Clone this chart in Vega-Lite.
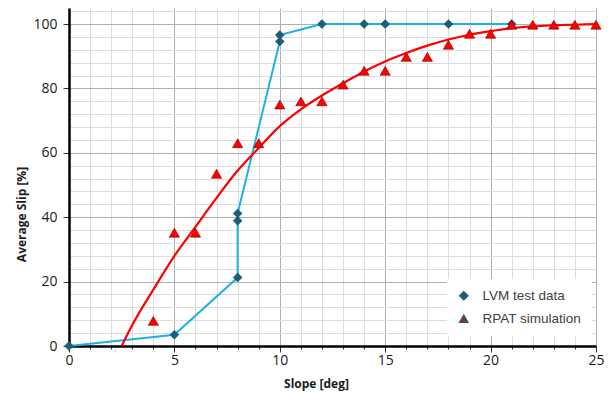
{
  "$schema": "https://vega.github.io/schema/vega-lite/v6.json",
  "width": 527,
  "height": 338,
  "autosize": {"type": "none"},
  "padding": {"left": 69, "top": 8, "right": 18, "bottom": 48},
  "background": "white",
  "config": {"view": {"stroke": null}},
  "encoding": {
    "x": {
      "field": "slope", "type": "quantitative",
      "scale": {"domain": [0, 25], "nice": false, "zero": false},
      "axis": {
        "values": [0,1,2,3,4,5,6,7,8,9,10,11,12,13,14,15,16,17,18,19,20,21,22,23,24,25],
        "labelExpr": "datum.value % 5 === 0 ? datum.label : ''",
        "labelOverlap": false,
        "labelFlush": false,
        "grid": true,
        "gridColor": {"condition": {"test": "datum.value % 5 === 0", "value": "#b0b0b0"}, "value": "#dcdcdc"},
        "gridWidth": 1,
        "domainColor": "#000000",
        "domainWidth": 2.5,
        "tickColor": "#333",
        "tickSize": {"condition": {"test": "datum.value % 5 === 0", "value": 6}, "value": 3},
        "labelFont": "Open Sans",
        "labelFontSize": 14,
        "labelColor": "#1a1a1a",
        "labelPadding": 1,
        "title": "Slope [deg]",
        "titleFont": "Open Sans",
        "titleFontSize": 12,
        "titleFontWeight": "bold",
        "titleColor": "#1a1a1a",
        "titleAnchor": null,
        "titleAlign": "center",
        "titleBaseline": "alphabetic",
        "titleX": 247,
        "titleY": 41
      }
    },
    "y": {
      "field": "slip", "type": "quantitative",
      "scale": {"domain": [0, 105], "nice": false},
      "axis": {
        "values": [0,4,8,12,16,20,24,28,32,36,40,44,48,52,56,60,64,68,72,76,80,84,88,92,96,100,104],
        "labelExpr": "datum.value % 20 === 0 ? datum.label : ''",
        "labelOverlap": false,
        "labelFlush": false,
        "grid": true,
        "gridColor": {"condition": {"test": "datum.value % 20 === 0", "value": "#b0b0b0"}, "value": "#dcdcdc"},
        "gridWidth": 1,
        "domainColor": "#000000",
        "domainWidth": 2.5,
        "tickColor": "#333",
        "tickSize": {"condition": {"test": "datum.value % 20 === 0", "value": 6}, "value": 0},
        "labelFont": "Open Sans",
        "labelFontSize": 14,
        "labelColor": "#1a1a1a",
        "labelPadding": 6,
        "title": "Average Slip [%]",
        "titleFont": "Open Sans",
        "titleFontSize": 12,
        "titleFontWeight": "bold",
        "titleColor": "#1a1a1a",
        "titleAlign": "center",
        "titleBaseline": "alphabetic",
        "titleAngle": -90,
        "titleX": -44,
        "titleY": 206
      }
    }
  },
  "layer": [
    {
      "data": {"values": [
        {"i": 0, "slope": 0, "slip": 0},
        {"i": 1, "slope": 5, "slip": 3.5},
        {"i": 2, "slope": 8, "slip": 21.3},
        {"i": 3, "slope": 8, "slip": 38.9},
        {"i": 4, "slope": 8, "slip": 41.2},
        {"i": 5, "slope": 10, "slip": 94.6},
        {"i": 6, "slope": 10, "slip": 96.6},
        {"i": 7, "slope": 12, "slip": 100},
        {"i": 8, "slope": 14, "slip": 100},
        {"i": 9, "slope": 15, "slip": 100},
        {"i": 10, "slope": 18, "slip": 100},
        {"i": 11, "slope": 21, "slip": 100}
      ]},
      "mark": {"type": "line", "color": "#1cb0e6", "strokeWidth": 2},
      "encoding": {
        "order": {"field": "i", "type": "quantitative"}
      }
    },
    {
      "data": {"values": [
        {"slope": 2.5, "slip": 0},
        {"slope": 3, "slip": 6.5},
        {"slope": 4, "slip": 17.5},
        {"slope": 5, "slip": 28},
        {"slope": 6, "slip": 37},
        {"slope": 7, "slip": 46},
        {"slope": 8, "slip": 54.5},
        {"slope": 9, "slip": 61.5},
        {"slope": 10, "slip": 68.3},
        {"slope": 11, "slip": 73.5},
        {"slope": 12, "slip": 77.8},
        {"slope": 13, "slip": 81.6},
        {"slope": 14, "slip": 85.3},
        {"slope": 15, "slip": 88.4},
        {"slope": 16, "slip": 91},
        {"slope": 17, "slip": 93.3},
        {"slope": 18, "slip": 95.2},
        {"slope": 19, "slip": 96.7},
        {"slope": 20, "slip": 97.8},
        {"slope": 21, "slip": 98.7},
        {"slope": 22, "slip": 99.3},
        {"slope": 23, "slip": 99.6},
        {"slope": 24, "slip": 99.8},
        {"slope": 25, "slip": 100}
      ]},
      "mark": {"type": "line", "color": "#ff0000", "strokeWidth": 2.2, "interpolate": "monotone"},
      "encoding": {}
    },
    {
      "data": {"values": [
        {"series": "LVM test data", "slope": 0, "slip": 0},
        {"series": "LVM test data", "slope": 5, "slip": 3.5},
        {"series": "LVM test data", "slope": 8, "slip": 21.3},
        {"series": "LVM test data", "slope": 8, "slip": 38.9},
        {"series": "LVM test data", "slope": 8, "slip": 41.2},
        {"series": "LVM test data", "slope": 10, "slip": 94.6},
        {"series": "LVM test data", "slope": 10, "slip": 96.6},
        {"series": "LVM test data", "slope": 12, "slip": 100},
        {"series": "LVM test data", "slope": 14, "slip": 100},
        {"series": "LVM test data", "slope": 15, "slip": 100},
        {"series": "LVM test data", "slope": 18, "slip": 100},
        {"series": "LVM test data", "slope": 21, "slip": 100},
        {"series": "RPAT simulation", "slope": 4, "slip": 7.8},
        {"series": "RPAT simulation", "slope": 5, "slip": 35.2},
        {"series": "RPAT simulation", "slope": 6, "slip": 35.2},
        {"series": "RPAT simulation", "slope": 7, "slip": 53.5},
        {"series": "RPAT simulation", "slope": 8, "slip": 63},
        {"series": "RPAT simulation", "slope": 9, "slip": 63},
        {"series": "RPAT simulation", "slope": 10, "slip": 75},
        {"series": "RPAT simulation", "slope": 11, "slip": 76},
        {"series": "RPAT simulation", "slope": 12, "slip": 76},
        {"series": "RPAT simulation", "slope": 13, "slip": 81.2},
        {"series": "RPAT simulation", "slope": 14, "slip": 85.5},
        {"series": "RPAT simulation", "slope": 15, "slip": 85.5},
        {"series": "RPAT simulation", "slope": 16, "slip": 89.8},
        {"series": "RPAT simulation", "slope": 17, "slip": 89.8},
        {"series": "RPAT simulation", "slope": 18, "slip": 93.6},
        {"series": "RPAT simulation", "slope": 19, "slip": 97},
        {"series": "RPAT simulation", "slope": 20, "slip": 97},
        {"series": "RPAT simulation", "slope": 21, "slip": 99.8},
        {"series": "RPAT simulation", "slope": 22, "slip": 99.8},
        {"series": "RPAT simulation", "slope": 23, "slip": 99.8},
        {"series": "RPAT simulation", "slope": 24, "slip": 99.8},
        {"series": "RPAT simulation", "slope": 25, "slip": 99.8}
      ]},
      "mark": {"type": "point", "filled": true, "opacity": 1, "strokeWidth": 0.6},
      "encoding": {
        "shape": {
          "field": "series", "type": "nominal",
          "scale": {"domain": ["LVM test data", "RPAT simulation"], "range": ["diamond", "triangle-up"]},
          "legend": {
            "title": null,
            "orient": "none",
            "legendX": 378,
            "legendY": 271,
            "fillColor": "white",
            "padding": 10,
            "rowPadding": 8,
            "labelFont": "Liberation Sans",
            "labelFontSize": 13.5,
            "labelColor": "#404040",
            "labelOffset": 12,
            "symbolSize": 64,
            "symbolOpacity": 1
          }
        },
        "color": {
          "field": "series", "type": "nominal",
          "scale": {"domain": ["LVM test data", "RPAT simulation"], "range": ["#1d5d77", "#ff0000"]}
        },
        "stroke": {
          "condition": {"test": "datum.series === 'RPAT simulation'", "value": "#7a0000"},
          "value": "#1d5d77"
        },
        "size": {
          "condition": {"test": "datum.series === 'RPAT simulation'", "value": 105},
          "value": 80
        }
      }
    }
  ]
}
